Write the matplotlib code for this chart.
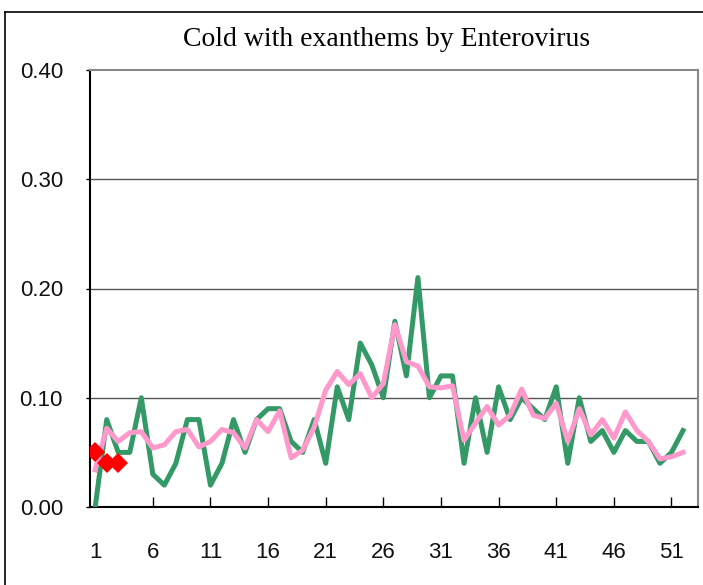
import matplotlib
matplotlib.use("Agg")
import matplotlib.pyplot as plt
from matplotlib.lines import Line2D

weeks = list(range(1, 53))
current = [0.00, 0.08, 0.05, 0.05, 0.10, 0.03, 0.02, 0.04, 0.08, 0.08,
           0.02, 0.04, 0.08, 0.05, 0.08, 0.09, 0.09, 0.06, 0.05, 0.08,
           0.04, 0.11, 0.08, 0.15, 0.13, 0.10, 0.17, 0.12, 0.21, 0.10,
           0.12, 0.12, 0.04, 0.10, 0.05, 0.11, 0.08, 0.10, 0.09, 0.08,
           0.11, 0.04, 0.10, 0.06, 0.07, 0.05, 0.07, 0.06, 0.06, 0.04,
           0.05, 0.07]
average = [0.034, 0.072, 0.060, 0.068, 0.069, 0.054, 0.057, 0.069, 0.071, 0.055,
           0.060, 0.071, 0.068, 0.054, 0.080, 0.069, 0.088, 0.045, 0.052, 0.073,
           0.107, 0.124, 0.112, 0.122, 0.100, 0.113, 0.167, 0.133, 0.129, 0.110,
           0.109, 0.111, 0.061, 0.077, 0.092, 0.075, 0.084, 0.108, 0.084, 0.081,
           0.095, 0.060, 0.090, 0.066, 0.080, 0.063, 0.087, 0.070, 0.060, 0.044,
           0.046, 0.050]
new_weeks = [1, 2, 3]
new_values = [0.05, 0.04, 0.04]
xtick_pos = [1, 6, 11, 16, 21, 26, 31, 36, 41, 46, 51]
ytick_pos = [0.0, 0.1, 0.2, 0.3, 0.4]
ytick_labels = ["0.00", "0.10", "0.20", "0.30", "0.40"]
title = "Cold with exanthems by Enterovirus"

W, H = 703, 585
fig = plt.figure(figsize=(W / 100, H / 100), dpi=100)
ax = fig.add_axes([90 / W, 1 - 507 / H, (698 - 90) / W, (507 - 70) / H])

ax.plot(weeks, current, color="#339966", lw=3.6, zorder=3)
ax.plot(weeks, average, color="#FF99CC", lw=3.6, zorder=4)
ax.plot(new_weeks, new_values, ls="none", marker="D", ms=10, color="#FF0000",
        markeredgewidth=0, zorder=5)

ax.set_xlim(0.55, 53.3)
ax.set_ylim(0, 0.4)
ax.set_yticks(ytick_pos)
ax.set_yticklabels(ytick_labels)
ax.set_xticks(xtick_pos)
ax.set_xticklabels([str(v) for v in xtick_pos])

tick_font = ["Liberation Sans", "DejaVu Sans"]
for lab in ax.get_xticklabels() + ax.get_yticklabels():
    lab.set_family(tick_font)
    lab.set_fontsize(16)
    lab.set_color("#111111")

ax.tick_params(axis="x", direction="in", length=7, width=1, pad=25, color="black")
ax.tick_params(axis="y", direction="out", length=3, width=1, pad=16.5, color="black")

for y in [0.1, 0.2, 0.3]:
    ax.axhline(y, color="#555555", lw=1.0, zorder=1)

ax.spines["left"].set_color("black")
ax.spines["left"].set_linewidth(1.5)
ax.spines["bottom"].set_color("black")
ax.spines["bottom"].set_linewidth(1.5)
ax.spines["top"].set_color("#888888")
ax.spines["top"].set_linewidth(1.5)
ax.spines["right"].set_color("#888888")
ax.spines["right"].set_linewidth(1.5)

fig.text(387 / W, 1 - 40 / H, title, ha="center", va="center",
         fontsize=20, family=["Liberation Serif", "DejaVu Serif"])

# outer frame (top and left edges visible)
fig.add_artist(Line2D([5 / W, 1.0], [1 - 12 / H, 1 - 12 / H], color="black", lw=1.2,
                      transform=fig.transFigure))
fig.add_artist(Line2D([5 / W, 5 / W], [0, 1 - 12 / H], color="black", lw=1.2,
                      transform=fig.transFigure))

fig.savefig("out.png", dpi=100)
